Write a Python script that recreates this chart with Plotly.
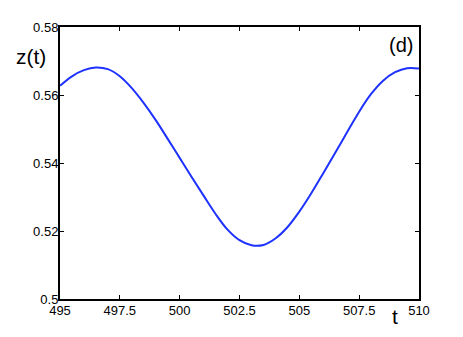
import plotly.graph_objects as go

# values
t = [495.0, 495.5, 496.0, 496.5, 497.0, 497.5, 498.0, 498.5, 499.0, 499.5,
     500.0, 500.5, 501.0, 501.5, 502.0, 502.5, 503.0, 503.5, 504.0, 504.5,
     505.0, 505.5, 506.0, 506.5, 507.0, 507.5, 508.0, 508.5, 509.0, 509.5, 510.0]
z = [0.5627, 0.5655, 0.5673, 0.5681, 0.5676, 0.5655, 0.5620, 0.5576, 0.5526, 0.5471,
     0.5415, 0.5359, 0.5304, 0.5250, 0.5204, 0.5173, 0.5158, 0.5159, 0.5178, 0.5211,
     0.5257, 0.5311, 0.5370, 0.5430, 0.5491, 0.5551, 0.5603, 0.5642, 0.5667, 0.5679, 0.5678]

x_ticks = [495, 497.5, 500, 502.5, 505, 507.5, 510]
x_ticktext = ['495', '497.5', '500', '502.5', '505', '507.5', '510']
y_ticks = [0.5, 0.52, 0.54, 0.56, 0.58]
y_ticktext = ['0.5', '0.52', '0.54', '0.56', '0.58']

font = 'Liberation Sans, Arial, Helvetica, sans-serif'

fig = go.Figure()
fig.add_trace(go.Scatter(x=t, y=z, mode='lines', line_shape='spline',
                         line=dict(color='rgb(30,50,255)', width=2),
                         showlegend=False, hoverinfo='skip'))

axis_style = dict(showline=True, linecolor='black', linewidth=2, mirror='allticks',
                  ticks='inside', ticklen=4, tickwidth=1, tickcolor='black',
                  showgrid=False, zeroline=False,
                  tickfont=dict(family=font, size=13, color='black'))

fig.update_xaxes(range=[495, 510], tickvals=x_ticks, ticktext=x_ticktext,
                 ticklabelstandoff=-2, **axis_style)
fig.update_yaxes(range=[0.5, 0.58], tickvals=y_ticks, ticktext=y_ticktext,
                 ticklabelstandoff=-3, **axis_style)

# axis labels and panel tag, placed in the plot's paper coordinates
labels = [('z(t)', -0.081, 0.89, 21), ('t', 0.933, -0.066, 21), ('(d)', 0.95, 0.934, 20)]
for txt, lx, ly, size in labels:
    fig.add_annotation(text=txt, xref='paper', yref='paper', x=lx, y=ly,
                       xanchor='center', yanchor='middle', showarrow=False,
                       font=dict(family=font, size=size, color='black'))

# page body has an 8px margin, so shift the plot area to land where the reference has it
fig.update_layout(width=463, height=337, margin=dict(l=52, r=52, t=17, b=46),
                  plot_bgcolor='white', paper_bgcolor='white')

fig.write_html("out.html")
